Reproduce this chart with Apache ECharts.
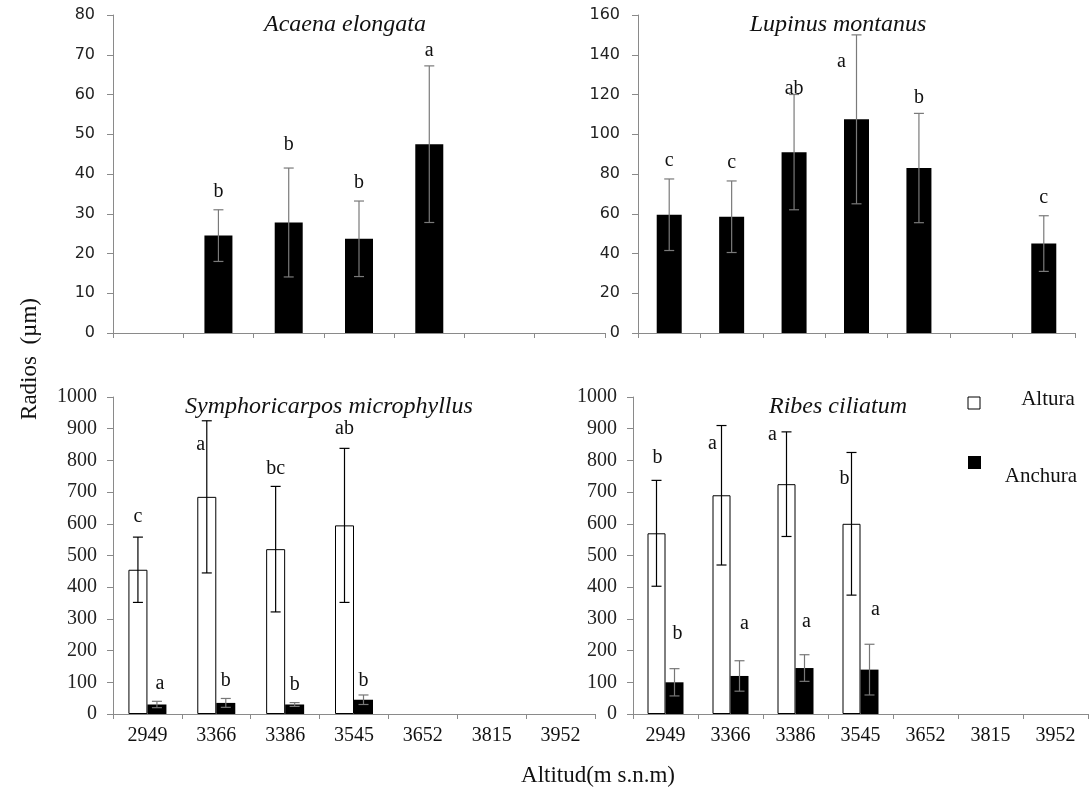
<!DOCTYPE html>
<html>
<head>
<meta charset="utf-8">
<script src="https://cdn.jsdelivr.net/npm/echarts@6/dist/echarts.min.js"></script>
<style>
html,body{margin:0;padding:0;background:#fff;}
#chart{width:1090px;height:800px;}
</style>
</head>
<body>
<div id="chart"></div>
<script>
// ---------- DATA ----------
const altitudes = ['2949', '3366', '3386', '3545', '3652', '3815', '3952'];

// Acaena elongata (anchura only)
const acaenaMean = [null, 24.5, 27.8, 23.7, 47.5, null, null];
const acaenaErr  = [null, 6.5, 13.7, 9.5, 19.7, null, null];
const acaenaLetters = ['', 'b', 'b', 'b', 'a', '', ''];

// Lupinus montanus (anchura only)
const lupinusMean = [59.5, 58.5, 91, 107.5, 83, null, 45];
const lupinusErr  = [18, 18, 29, 42.5, 27.5, null, 14];
const lupinusLetters = ['c', 'c', 'ab', 'a', 'b', '', 'c'];

// Symphoricarpos microphyllus
const symAlturaMean  = [455, 685, 520, 595, null, null, null];
const symAlturaErr   = [103, 240, 198, 243, null, null, null];
const symAlturaLetters = ['c', 'a', 'bc', 'ab', '', '', ''];
const symAnchuraMean = [30, 35, 30, 45, null, null, null];
const symAnchuraErr  = [10, 14, 6, 15, null, null, null];
const symAnchuraLetters = ['a', 'b', 'b', 'b', '', '', ''];

// Ribes ciliatum
const ribAlturaMean  = [570, 690, 725, 600, null, null, null];
const ribAlturaErr   = [167, 220, 165, 225, null, null, null];
const ribAlturaLetters = ['b', 'a', 'a', 'b', '', '', ''];
const ribAnchuraMean = [100, 120, 145, 140, null, null, null];
const ribAnchuraErr  = [43, 48, 42, 80, null, null, null];
const ribAnchuraLetters = ['b', 'a', 'a', 'a', '', '', ''];

const yTop1 = {max: 80, interval: 10};
const yTop2 = {max: 160, interval: 20};
const yBottom = {max: 1000, interval: 100};

// ---------- LAYOUT / STYLE ----------
const grids = [
  {left: 113, top: 15, width: 492, height: 318},
  {left: 638, top: 15, width: 437, height: 318},
  {left: 113, top: 397, width: 482, height: 317},
  {left: 633, top: 397, width: 455, height: 317}
];
// letter offsets [dx, dy] in px relative to the default spot (above the error-bar top)
const letterOffsets = {
  acaena: [[0,0],[0,0],[0,-5],[0,0],[0,3],[0,0],[0,0]],
  lupinus: [[0,0],[0,0],[0,12],[-15,45],[0,2],[0,0],[0,0]],
  symA: [[0,-2],[-6,42],[0,0],[0,-2]],
  symB: [[3,0],[0,0],[0,0],[0,4]],
  ribA: [[1,-5],[-9,36],[-14,21],[-7,44]],
  ribB: [[3,-17],[5,-19],[2,-15],[6,-17]]
};

const serif = "'Liberation Serif', 'DejaVu Serif', serif";
const sans = "'DejaVu Sans', Verdana, sans-serif";
const axisGrey = '#8a8a8a';

function xAxis(gi, showLabels) {
  return {
    type: 'category', gridIndex: gi, data: altitudes, boundaryGap: true,
    axisLine: {show: true, lineStyle: {color: axisGrey, width: 1}},
    axisTick: {show: true, length: 5, alignWithLabel: false, lineStyle: {color: axisGrey}},
    axisLabel: {show: showLabels, fontFamily: serif, fontSize: 20, color: '#111', margin: 12},
    splitLine: {show: false}
  };
}
function yAxis(gi, cfg, font, size, margin) {
  return {
    type: 'value', gridIndex: gi, min: 0, max: cfg.max, interval: cfg.interval,
    axisLine: {show: true, lineStyle: {color: axisGrey, width: 1}},
    axisTick: {show: true, length: 6, lineStyle: {color: axisGrey}},
    axisLabel: {fontFamily: font, fontSize: size, color: '#222', margin: margin,
                formatter: function (v) { return String(v); }},
    splitLine: {show: false}
  };
}

function errorSeries(gi, means, errs, letters, xOff, color, capW, offs) {
  const data = [];
  means.forEach((m, i) => { if (m != null) data.push([i, m, errs[i]]); });
  return {
    type: 'custom', xAxisIndex: gi, yAxisIndex: gi, z: 5, silent: true,
    data: data,
    renderItem: function (params, api) {
      const i = api.value(0), m = api.value(1), e = api.value(2);
      const top = api.coord([i, m + e]);
      const bot = api.coord([i, m - e]);
      const x = top[0] + xOff;
      const o = (offs && offs[i]) || [0, 0];
      const ls = {stroke: color, lineWidth: 1.2};
      return {
        type: 'group',
        children: [
          {type: 'line', shape: {x1: x, y1: top[1], x2: x, y2: bot[1]}, style: ls},
          {type: 'line', shape: {x1: x - capW / 2, y1: top[1], x2: x + capW / 2, y2: top[1]}, style: ls},
          {type: 'line', shape: {x1: x - capW / 2, y1: bot[1], x2: x + capW / 2, y2: bot[1]}, style: ls},
          {type: 'text', x: x + o[0], y: top[1] - 8 + o[1],
           style: {text: letters[i], fill: '#111', font: '20px ' + serif, textAlign: 'center', textVerticalAlign: 'bottom'}}
        ]
      };
    }
  };
}

const titleStyle = {fontFamily: serif, fontStyle: 'italic', fontWeight: 'normal', fontSize: 24, color: '#111'};

const option = {
  backgroundColor: '#fff',
  animation: false,
  title: [
    {text: 'Acaena elongata', left: 340, top: 8, textAlign: 'center', textStyle: titleStyle},
    {text: 'Lupinus montanus', left: 833, top: 8, textAlign: 'center', textStyle: titleStyle},
    {text: 'Symphoricarpos microphyllus', left: 324, top: 390, textAlign: 'center', textStyle: titleStyle},
    {text: 'Ribes ciliatum', left: 833, top: 390, textAlign: 'center', textStyle: titleStyle}
  ],
  grid: grids,
  xAxis: [xAxis(0, false), xAxis(1, false), xAxis(2, true), xAxis(3, true)],
  yAxis: [
    yAxis(0, yTop1, sans, 16, 18),
    yAxis(1, yTop2, sans, 16, 18),
    yAxis(2, yBottom, serif, 20, 16),
    yAxis(3, yBottom, serif, 20, 16)
  ],
  series: [
    {type: 'bar', name: 'Anchura', xAxisIndex: 0, yAxisIndex: 0, data: acaenaMean, barWidth: 28,
     itemStyle: {color: '#000'}},
    errorSeries(0, acaenaMean, acaenaErr, acaenaLetters, 0, '#7a7a7a', 10, letterOffsets.acaena),

    {type: 'bar', name: 'Anchura', xAxisIndex: 1, yAxisIndex: 1, data: lupinusMean, barWidth: 25,
     itemStyle: {color: '#000'}},
    errorSeries(1, lupinusMean, lupinusErr, lupinusLetters, 0, '#7a7a7a', 10, letterOffsets.lupinus),

    {type: 'bar', name: 'Altura', xAxisIndex: 2, yAxisIndex: 2, data: symAlturaMean, barWidth: 19, barGap: '0%',
     itemStyle: {color: '#fff', borderColor: '#000', borderWidth: 1}},
    {type: 'bar', name: 'Anchura', xAxisIndex: 2, yAxisIndex: 2, data: symAnchuraMean, barWidth: 19, barGap: '0%',
     itemStyle: {color: '#000'}},
    errorSeries(2, symAlturaMean, symAlturaErr, symAlturaLetters, -9.5, '#000', 10, letterOffsets.symA),
    errorSeries(2, symAnchuraMean, symAnchuraErr, symAnchuraLetters, 9.5, '#777', 10, letterOffsets.symB),

    {type: 'bar', name: 'Altura', xAxisIndex: 3, yAxisIndex: 3, data: ribAlturaMean, barWidth: 18, barGap: '0%',
     itemStyle: {color: '#fff', borderColor: '#000', borderWidth: 1}},
    {type: 'bar', name: 'Anchura', xAxisIndex: 3, yAxisIndex: 3, data: ribAnchuraMean, barWidth: 18, barGap: '0%',
     itemStyle: {color: '#000'}},
    errorSeries(3, ribAlturaMean, ribAlturaErr, ribAlturaLetters, -9, '#000', 10, letterOffsets.ribA),
    errorSeries(3, ribAnchuraMean, ribAnchuraErr, ribAnchuraLetters, 9, '#777', 10, letterOffsets.ribB)
  ],
  graphic: [
    {type: 'text', x: 30, y: 359, rotation: Math.PI / 2,
     style: {text: 'Radios  (\u00b5m)', font: '23px ' + serif, fill: '#111', textAlign: 'center', textVerticalAlign: 'middle'}},
    {type: 'text', x: 598, y: 776,
     style: {text: 'Altitud(m s.n.m)', font: '23px ' + serif, fill: '#111', textAlign: 'center', textVerticalAlign: 'middle'}},
    {type: 'rect', shape: {x: 968, y: 397, width: 12, height: 12}, style: {fill: '#fff', stroke: '#000', lineWidth: 1}},
    {type: 'rect', shape: {x: 968, y: 456, width: 13, height: 13}, style: {fill: '#000'}},
    {type: 'text', x: 1048, y: 399,
     style: {text: 'Altura', font: '21px ' + serif, fill: '#111', textAlign: 'center', textVerticalAlign: 'middle'}},
    {type: 'text', x: 1041, y: 476,
     style: {text: 'Anchura', font: '21px ' + serif, fill: '#111', textAlign: 'center', textVerticalAlign: 'middle'}}
  ]
};

const chart = echarts.init(document.getElementById('chart'), null, {renderer: 'canvas'});
chart.setOption(option);
</script>
</body>
</html>
